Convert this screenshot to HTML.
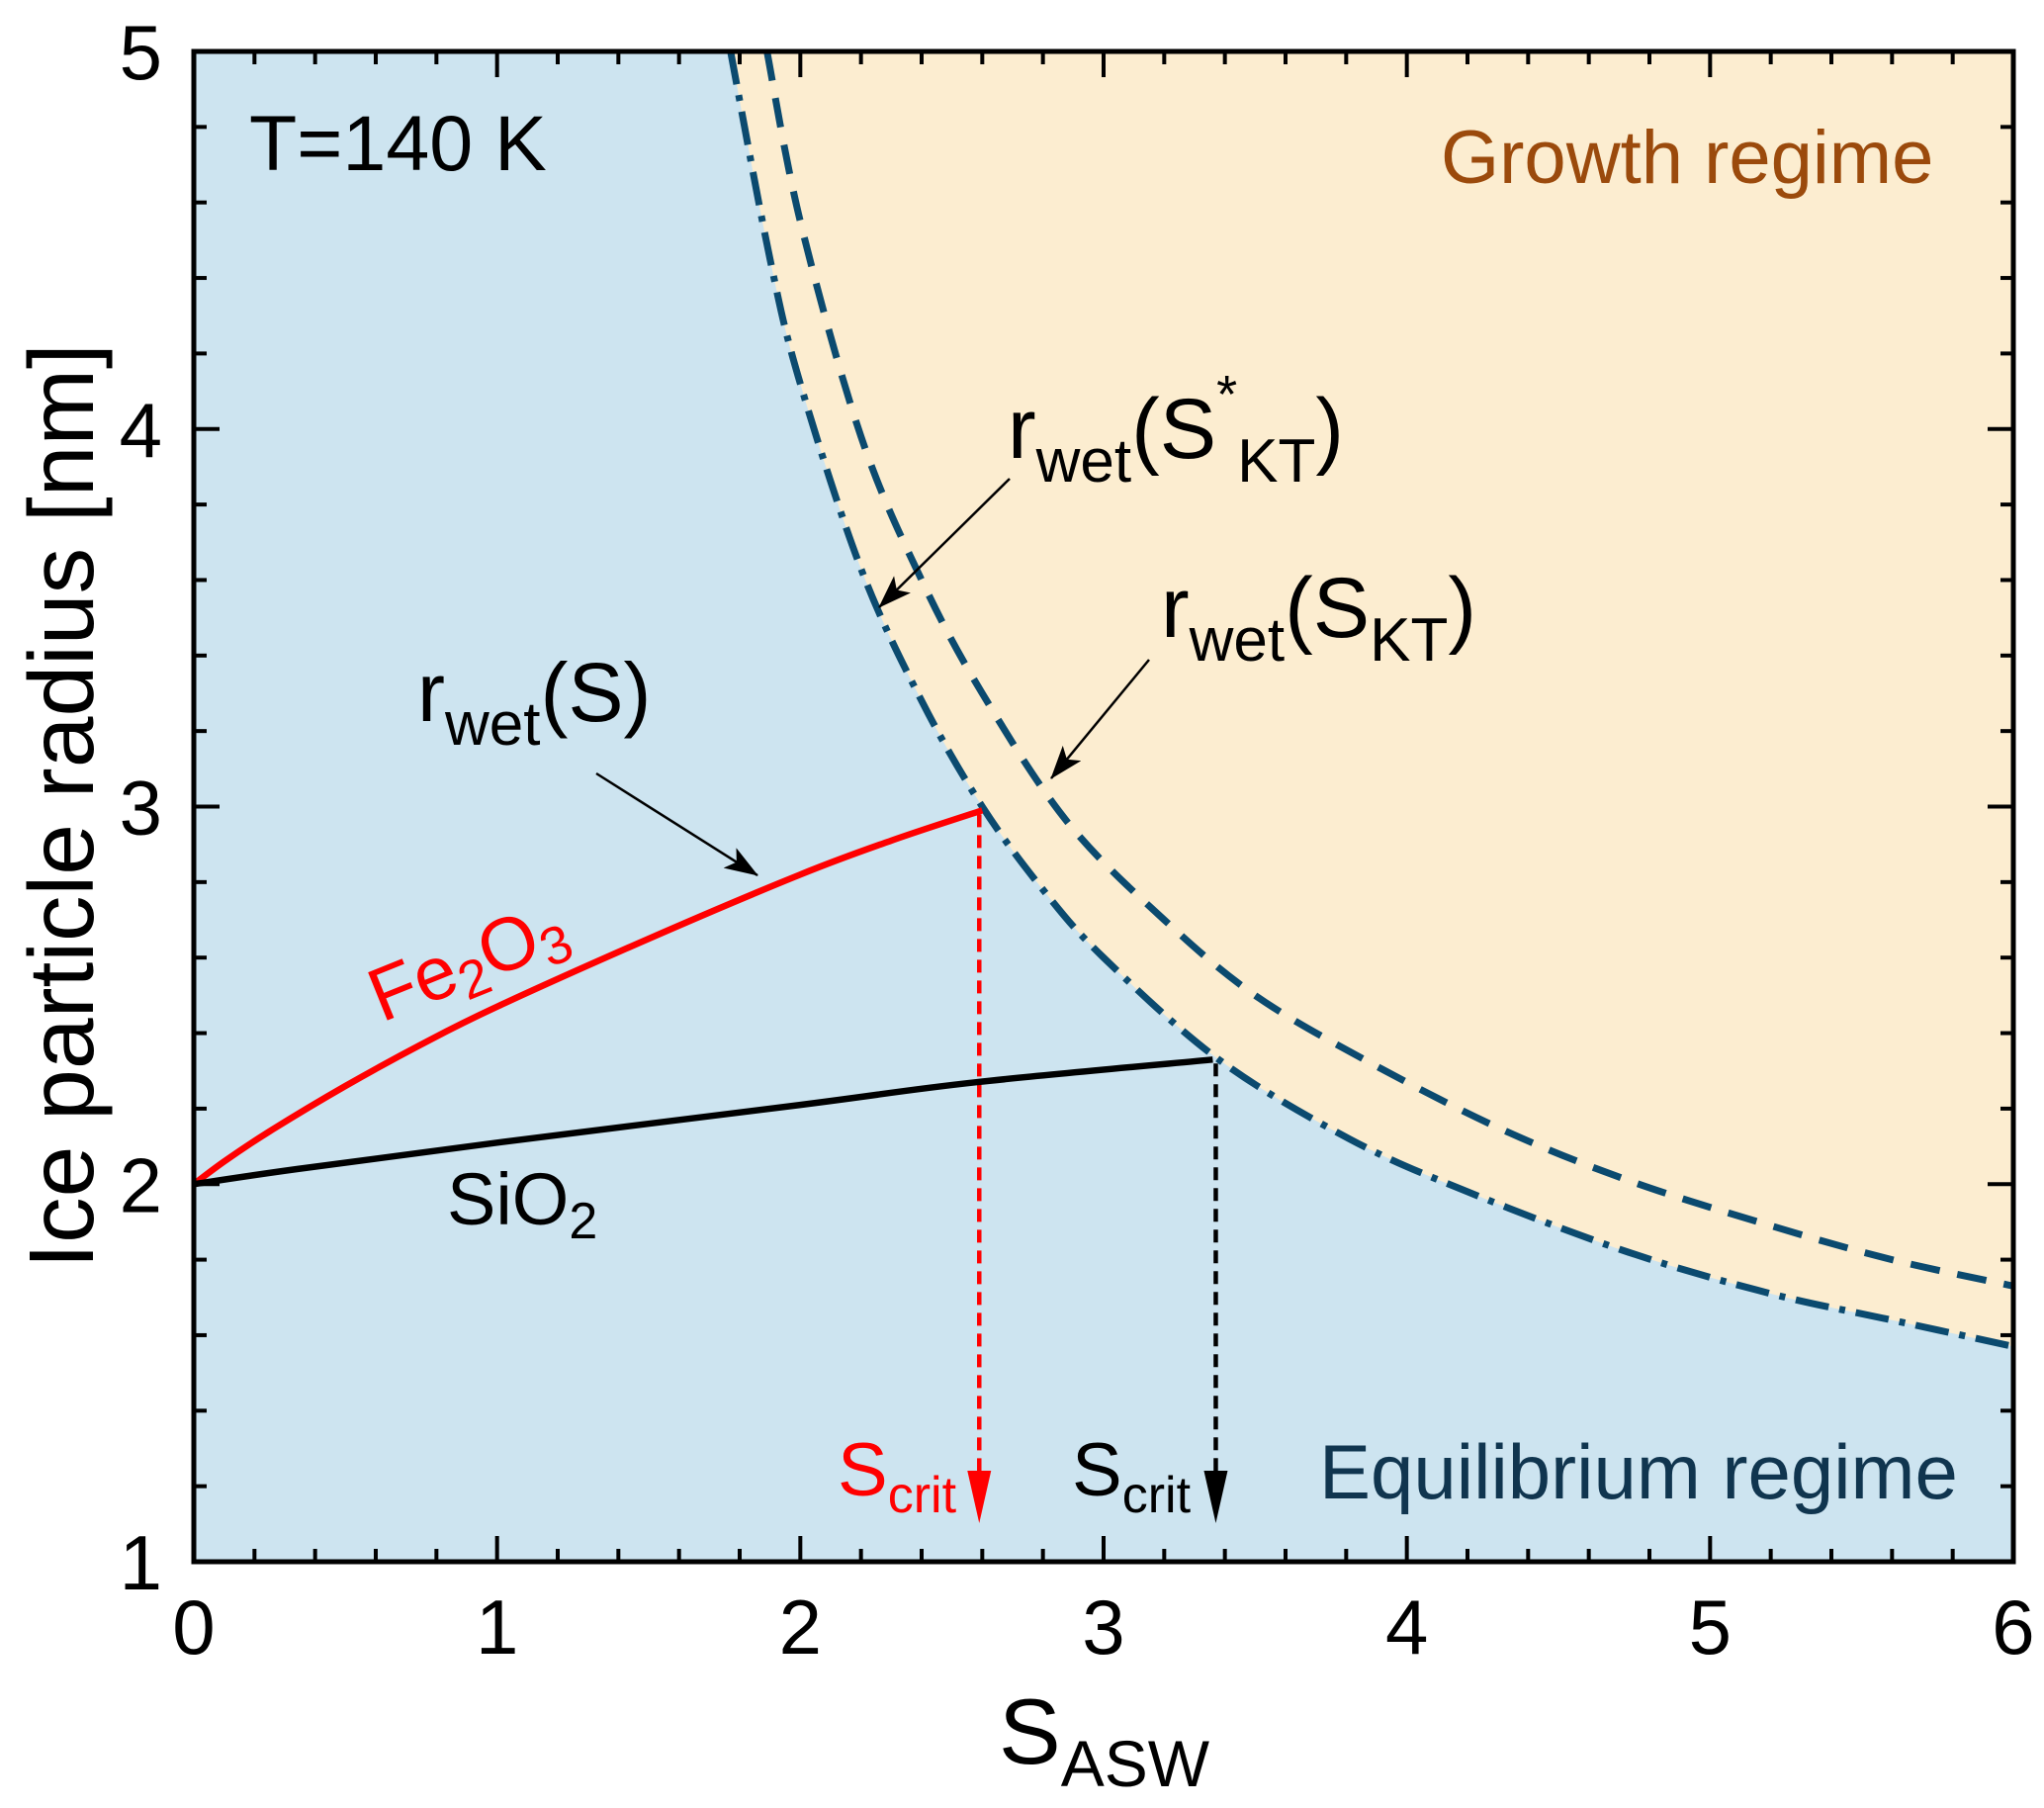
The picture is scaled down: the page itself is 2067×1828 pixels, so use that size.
<!DOCTYPE html>
<html><head><meta charset="utf-8"><style>
html,body{margin:0;padding:0;background:#fff;}
svg{display:block;font-family:"Liberation Sans",Arial,sans-serif;}
</style></head><body>
<svg id="chart" width="2067" height="1828" viewBox="0 0 2067 1828" xmlns="http://www.w3.org/2000/svg">
<defs>
<clipPath id="plotclip"><rect x="196" y="52" width="1840" height="1527"/></clipPath>
<marker id="ahBlack" markerWidth="34" markerHeight="24" refX="33" refY="12" orient="auto" markerUnits="userSpaceOnUse" viewBox="0 0 34 24"><path d="M0,0 L34,12 L0,24 L8,12 Z" fill="#000"/></marker>
</defs>
<g id="plot"></g>
<g id="labels"></g>
</svg>
<script>
// ---- data ----
const sKTstarS = [1.77, 1.9, 2.0, 2.2, 2.4, 2.6, 2.8, 3.0, 3.38, 3.81, 4.2, 4.73, 5.2, 5.6, 6.0];
const sKTstarR = [5.0, 4.45, 4.12, 3.63, 3.28, 3.0, 2.78, 2.60, 2.33, 2.12, 1.98, 1.82, 1.71, 1.64, 1.57];
const sKTS = [1.89, 2.0, 2.2, 2.4, 2.6, 2.88, 3.2, 3.5, 3.86, 4.3, 4.73, 5.2, 5.6, 6.0];
const sKTR = [5.0, 4.55, 3.98, 3.60, 3.30, 2.96, 2.70, 2.50, 2.33, 2.15, 2.01, 1.89, 1.80, 1.73];
const fe2o3S = [0, 0.1, 0.25, 0.5, 0.75, 1.0, 1.5, 2.0, 2.3, 2.6];
const fe2o3R = [2.0, 2.06, 2.14, 2.26, 2.37, 2.47, 2.65, 2.82, 2.91, 2.99];
const sio2S = [0, 0.34, 1.0, 2.0, 2.58, 3.36];
const sio2R = [2.0, 2.04, 2.11, 2.21, 2.27, 2.33];
const scritS = [2.59, 3.37];
const scritColors = ["#ff0000", "#000000"];
const xTicks = [0, 1, 2, 3, 4, 5, 6];
const yTicks = [1, 2, 3, 4, 5];

// ---- axes ----
const X0 = 196, X1 = 2036, Y0 = 1579, Y1 = 52;
const xs = v => X0 + v * (X1 - X0) / 6;
const ys = v => Y0 - (v - 1) * (Y0 - Y1) / 4;
const NS = "http://www.w3.org/2000/svg";
const plot = document.getElementById('plot');
function mk(tag, attrs, parent) {
  const e = document.createElementNS(NS, tag);
  for (const k in attrs) e.setAttribute(k, attrs[k]);
  (parent || plot).appendChild(e);
  return e;
}
function pathOf(S, R) {
  const P = S.map((s, i) => [xs(s), ys(R[i])]);
  let d = 'M' + P[0][0].toFixed(1) + ',' + P[0][1].toFixed(1);
  for (let i = 0; i < P.length - 1; i++) {
    const p0 = P[Math.max(i - 1, 0)], p1 = P[i], p2 = P[i + 1], p3 = P[Math.min(i + 2, P.length - 1)];
    const c1 = [p1[0] + (p2[0] - p0[0]) / 6, p1[1] + (p2[1] - p0[1]) / 6];
    const c2 = [p2[0] - (p3[0] - p1[0]) / 6, p2[1] - (p3[1] - p1[1]) / 6];
    d += ` C${c1[0].toFixed(1)},${c1[1].toFixed(1)} ${c2[0].toFixed(1)},${c2[1].toFixed(1)} ${p2[0].toFixed(1)},${p2[1].toFixed(1)}`;
  }
  return d;
}

let el = mk('rect', {x: X0, y: Y1, width: X1 - X0, height: Y0 - Y1, fill: '#cde4f0'});


const gClip = mk('g', {'clip-path': 'url(#plotclip)'});
el = mk('path', {d: pathOf(sKTstarS, sKTstarR) + ` L${X1 + 10},${ys(sKTstarR[sKTstarR.length - 1])} L${X1 + 10},${Y1 - 10} L${xs(sKTstarS[0])},${Y1 - 10} Z`, fill: '#fcedd0'}, gClip);



el = mk('path', {d: pathOf(sKTS, sKTR), fill: 'none', stroke: '#0b4a6f', 'stroke-width': 7, 'stroke-dasharray': '30 18'}, gClip);


el = mk('path', {d: pathOf(sKTstarS, sKTstarR), fill: 'none', stroke: '#0b4a6f', 'stroke-width': 7, 'stroke-dasharray': '34 11 6 11'}, gClip);



const startR = [fe2o3R[fe2o3R.length - 1], sio2R[sio2R.length - 1]];
scritS.forEach((s, i) => {
  const x = xs(s), c = scritColors[i];
  let l = mk('line', {x1: x, y1: ys(startR[i]) + 4, x2: x, y2: 1490, stroke: c, 'stroke-width': 4.5, 'stroke-dasharray': '13 8'});
  
  
  let h = mk('path', {d: `M${x - 12},1487 L${x + 12},1487 L${x},1540 Z`, fill: c});
  
  
});

el = mk('path', {d: pathOf(fe2o3S, fe2o3R), fill: 'none', stroke: '#ff0000', 'stroke-width': 6.5, 'stroke-linejoin': 'round'});


el = mk('path', {d: pathOf(sio2S, sio2R), fill: 'none', stroke: '#000', 'stroke-width': 6.5, 'stroke-linejoin': 'round'});



for (let v = 0; v <= 6.0001; v += 0.2) {
  const major = Math.abs(v - Math.round(v)) < 1e-6;
  const len = major ? 26 : 13, x = xs(v);
  let t = mk('line', {x1: x, y1: Y0, x2: x, y2: Y0 - len, stroke: '#000', 'stroke-width': 4});
  
  
  t = mk('line', {x1: x, y1: Y1, x2: x, y2: Y1 + len, stroke: '#000', 'stroke-width': 4});
  
  
}
for (let v = 1; v <= 5.0001; v += 0.2) {
  const major = Math.abs(v - Math.round(v)) < 1e-6;
  const len = major ? 26 : 13, y = ys(v);
  let t = mk('line', {x1: X0, y1: y, x2: X0 + len, y2: y, stroke: '#000', 'stroke-width': 4});
  
  
  t = mk('line', {x1: X1, y1: y, x2: X1 - len, y2: y, stroke: '#000', 'stroke-width': 4});
  
  
}
el = mk('rect', {x: X0, y: Y1, width: X1 - X0, height: Y0 - Y1, fill: 'none', stroke: '#000', 'stroke-width': 5});



xTicks.forEach(v => {
  const t = mk('text', {x: xs(v), y: 1672, 'font-size': 78, 'text-anchor': 'middle', fill: '#000'});
  t.textContent = v;
  
  
});
yTicks.forEach(v => {
  const t = mk('text', {x: 164, y: ys(v) + 28, 'font-size': 78, 'text-anchor': 'end', fill: '#000'});
  t.textContent = v;
  
  
});
</script>
<script>
const L = document.getElementById('labels');
L.innerHTML = `
<text x="252" y="172" font-size="79" fill="#000">T=140 K</text>
<text x="1457" y="185" font-size="76" fill="#9b4a0c">Growth regime</text>
<text x="1334" y="1515" font-size="78" fill="#10354f">Equilibrium regime</text>
<text x="1019" y="463" font-size="86" fill="#000">r<tspan font-size="62" dy="24">wet</tspan><tspan font-size="86" dy="-24">(S</tspan><tspan font-size="54" dy="-46">*</tspan><tspan font-size="62" dy="70">KT</tspan><tspan font-size="86" dy="-24">)</tspan></text>
<text x="1174" y="644" font-size="86" fill="#000">r<tspan font-size="62" dy="24">wet</tspan><tspan font-size="86" dy="-24">(S</tspan><tspan font-size="62" dy="24">KT</tspan><tspan font-size="86" dy="-24">)</tspan></text>
<text x="422" y="729" font-size="84" fill="#000">r<tspan font-size="62" dy="24">wet</tspan><tspan font-size="84" dy="-24">(S)</tspan></text>
<line x1="1021" y1="484" x2="889" y2="614" stroke="#000" stroke-width="2.5" marker-end="url(#ahBlack)"/>
<line x1="1162" y1="667" x2="1063" y2="787" stroke="#000" stroke-width="2.5" marker-end="url(#ahBlack)"/>
<line x1="603" y1="782" x2="766" y2="885" stroke="#000" stroke-width="2.5" marker-end="url(#ahBlack)"/>
<text transform="translate(386,1034) rotate(-22)" font-size="76" fill="#ff0000">Fe<tspan font-size="54" dy="12">2</tspan><tspan font-size="76" dy="-12">O</tspan><tspan font-size="54" dy="12">3</tspan></text>
<text x="452" y="1238" font-size="74" fill="#000">SiO<tspan font-size="52" dy="14">2</tspan></text>
<text x="847" y="1512" font-size="76" fill="#ff0000">S<tspan font-size="52" dy="17">crit</tspan></text>
<text x="1084" y="1512" font-size="76" fill="#000">S<tspan font-size="52" dy="17">crit</tspan></text>
<text x="1010" y="1783" font-size="94" fill="#000">S<tspan font-size="66" dy="23">ASW</tspan></text>
<text transform="translate(94,815) rotate(-90)" font-size="93" text-anchor="middle" fill="#000">Ice particle radius [nm]</text>
`;
</script>
</body></html>
